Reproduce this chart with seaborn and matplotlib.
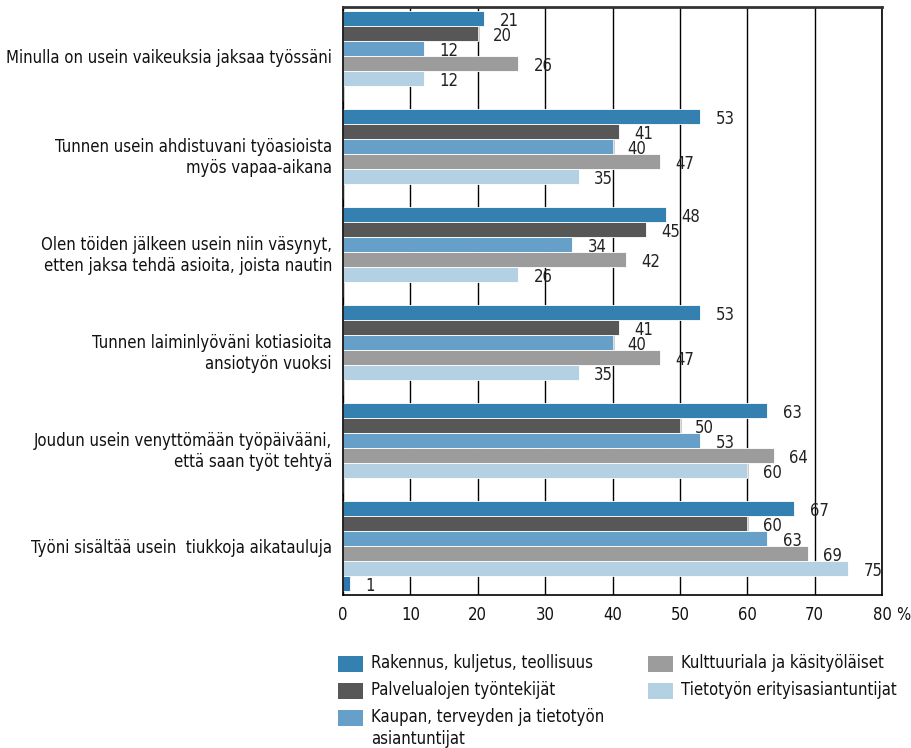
import matplotlib
matplotlib.use("Agg")
import matplotlib.pyplot as plt
from matplotlib.patches import Rectangle
import seaborn as sns
import pandas as pd

# statements (y categories)
statements = [
    "Minulla on usein vaikeuksia jaksaa työssäni",
    "Tunnen usein ahdistuvani työasioista\nmyös vapaa-aikana",
    "Olen töiden jälkeen usein niin väsynyt,\netten jaksa tehdä asioita, joista nautin",
    "Tunnen laiminlyöväni kotiasioita\nansiotyön vuoksi",
    "Joudun usein venyttömään työpäivääni,\nettä saan työt tehtyä",
    "Työni sisältää usein  tiukkoja aikatauluja",
]

groups = [
    "Rakennus, kuljetus, teollisuus",
    "Palvelualojen työntekijät",
    "Kaupan, terveyden ja tietotyön\nasiantuntijat",
    "Kulttuuriala ja käsityöläiset",
    "Tietotyön erityisasiantuntijat",
]

rakennus = [21, 53, 48, 53, 63, 67]
palvelu = [20, 41, 45, 41, 50, 60]
kaupan = [12, 40, 34, 40, 53, 63]
kulttuuri = [26, 47, 42, 47, 64, 69]
tieto = [12, 35, 26, 35, 60, 75]
# stray bar that appears under the last group in the original
extra = [0, 0, 0, 0, 0, 1]

colors = ["#3480b1", "#575757", "#66a0c8", "#9c9c9c", "#b4d0e3"]
extra_color = "#2c78b2"

sns.set_style("white")
plt.rcParams["font.family"] = ["DejaVu Sans"]
plt.rcParams["font.stretch"] = "condensed"
FS = 12

series = [rakennus, palvelu, kaupan, kulttuuri, tieto, extra]
hue_levels = groups + ["extra"]
rows = []
for name, vals in zip(hue_levels, series):
    for st, v in zip(statements, vals):
        rows.append({"statement": st, "group": name, "value": v})
df = pd.DataFrame(rows)

fig = plt.figure(figsize=(9.12, 7.48), dpi=100)
ax = fig.add_axes([343 / 912, 1 - 595 / 748, (882 - 343) / 912, (595 - 7) / 748])

sns.barplot(data=df, x="value", y="statement", hue="group", order=statements,
            hue_order=hue_levels, palette=colors + [extra_color], orient="h",
            width=0.92, saturation=1, edgecolor="white", linewidth=0.6,
            legend=False, ax=ax)

# value labels, sitting a touch below the bar centre like the original
for cont, vals in zip(ax.containers, series):
    labels = [str(v) if v > 0 else "" for v in vals]
    anns = ax.bar_label(cont, labels=labels, padding=11, fontsize=FS, color="#222222")
    for a in anns:
        a.xyann = (11, -1.5)

ax.set_xlim(0, 80)
ax.set_ylim(5.5, -0.5)
ax.set_xticks(range(0, 81, 10))
ax.set_xlabel("")
ax.set_ylabel("")
ax.grid(axis="x", color="black", linewidth=1)
ax.grid(axis="y", visible=False)
ax.set_axisbelow(True)
ax.tick_params(axis="both", length=0, labelsize=FS, colors="#111111")
ax.tick_params(axis="y", pad=8)
ax.tick_params(axis="x", pad=8)
for s in ["left", "bottom", "right"]:
    ax.spines[s].set_color("black")
    ax.spines[s].set_linewidth(1.2)
ax.spines["top"].set_color("#333333")
ax.spines["top"].set_linewidth(2)

ax.annotate("%", xy=(80, 0), xycoords=("data", "axes fraction"),
            xytext=(10, -8), textcoords="offset points", ha="left", va="top",
            fontsize=FS, color="#111111")

# legend drawn by hand, two columns like the original
W, H = 912, 748
legend_pos = [(338, 664), (338, 691), (338, 718), (648, 664), (648, 691)]
for (px, py), c, lab in zip(legend_pos, colors, groups):
    fig.add_artist(Rectangle((px / W, 1 - (py + 8) / H), 25 / W, 16 / H,
                             transform=fig.transFigure, facecolor=c, edgecolor="none"))
    fig.text((px + 33) / W, 1 - (py - 10) / H, lab, ha="left", va="top",
             fontsize=FS, color="#111111", linespacing=1.25)

fig.savefig("out.png", dpi=100)
